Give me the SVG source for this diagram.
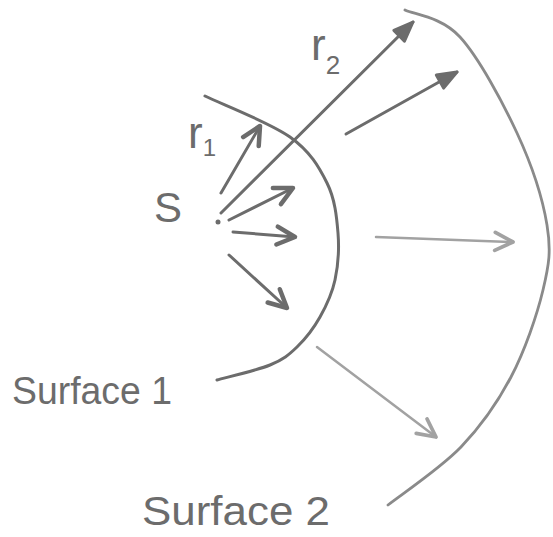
<svg xmlns="http://www.w3.org/2000/svg" width="553" height="537" viewBox="0 0 553 537">
<style>
.dark{fill:none;stroke:#6c6c6c;stroke-width:3;stroke-linecap:round;stroke-linejoin:round}
.light{fill:none;stroke:#a2a2a2;stroke-width:2.5;stroke-linecap:round;stroke-linejoin:round}
.surf2{fill:none;stroke:#8a8a8a;stroke-width:2.8;stroke-linecap:round}
.lbl{font-family:"Liberation Sans",Arial,sans-serif;fill:#6c6c6c}
</style>
<defs>
<marker id="hd" markerUnits="userSpaceOnUse" markerWidth="30" markerHeight="30" refX="0" refY="0" viewBox="-16 -10 20 20" orient="auto" overflow="visible">
<path d="M-12,-6 L0,0 L-12,6" fill="none" stroke="#6c6c6c" stroke-width="3" stroke-linecap="round" stroke-linejoin="round"/>
</marker>
<marker id="hf" markerUnits="userSpaceOnUse" markerWidth="30" markerHeight="30" refX="0" refY="0" viewBox="-16 -10 20 20" orient="auto" overflow="visible">
<path d="M-13,-5 L0,0 L-13,5 Z" fill="#6c6c6c" stroke="#6c6c6c" stroke-width="2" stroke-linejoin="round"/>
</marker>
<marker id="hl" markerUnits="userSpaceOnUse" markerWidth="30" markerHeight="30" refX="0" refY="0" viewBox="-16 -10 20 20" orient="auto" overflow="visible">
<path d="M-12,-6 L0,0 L-12,6" fill="none" stroke="#a2a2a2" stroke-width="2.5" stroke-linecap="round" stroke-linejoin="round"/>
</marker>
</defs>
<rect width="553" height="537" fill="#ffffff"/>
<g id="surface1">
<path class="dark" d="M205,96 C219,103 270,122.5 290,137 C310.3,151.5 319,167 327,183 C335,199 336.7,216.8 338,233 C339.3,249.2 338,266 335,280 C332,294 326.3,305.8 320,317 C313.7,328.2 305.3,339 297,347 C288.7,355 283.3,359.5 270,365 C256.7,370.5 225.8,377.5 217,380"/>
<text class="lbl" x="12" y="404" font-size="38" textLength="160" lengthAdjust="spacingAndGlyphs">Surface 1</text>
</g>
<g id="surface2">
<path class="surf2" d="M405,10 C414,14.5 441.3,16.5 460,37 C478.7,57.5 502.5,101.7 517,133 C531.5,164.3 542.7,198.8 547,225 C551.3,251.2 549,264.7 543,290 C537,315.3 524.7,350.8 511,377 C497.3,403.2 481.5,425.7 461,447 C440.5,468.3 400.2,495.3 388,505"/>
<text class="lbl" x="142" y="525" font-size="40" textLength="188" lengthAdjust="spacingAndGlyphs">Surface 2</text>
</g>
<g id="source">
<circle cx="218" cy="222" r="2.5" fill="#6c6c6c"/>
<text class="lbl" x="154" y="222" font-size="42">S</text>
</g>
<g id="labels">
<text class="lbl" x="188" y="148" font-size="44">r<tspan font-size="24" dy="8">1</tspan></text>
<text class="lbl" x="311" y="60" font-size="44">r<tspan font-size="26" dy="14">2</tspan></text>
</g>
<g id="connectors">
<line class="dark" x1="221" y1="193" x2="260" y2="126" marker-end="url(#hd)"/>
<line class="dark" x1="221" y1="213" x2="413" y2="22" marker-end="url(#hf)"/>
<line class="dark" x1="229" y1="220" x2="293" y2="188" marker-end="url(#hd)"/>
<line class="dark" x1="233" y1="232" x2="295" y2="237" marker-end="url(#hd)"/>
<line class="dark" x1="229" y1="255" x2="287" y2="308" marker-end="url(#hd)"/>
<line class="dark" x1="346" y1="134" x2="457" y2="72" marker-end="url(#hf)"/>
<line class="light" x1="376" y1="237" x2="513" y2="242" marker-end="url(#hl)"/>
<line class="light" x1="317" y1="347" x2="436" y2="437" marker-end="url(#hl)"/>
</g>
</svg>
